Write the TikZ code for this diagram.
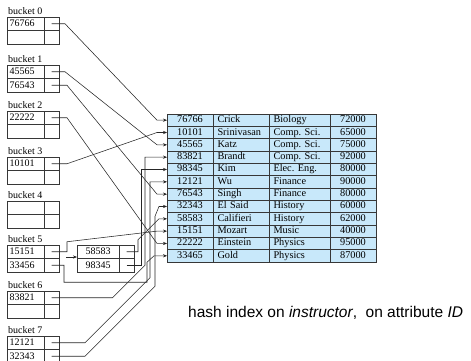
\documentclass[tikz,border=0pt]{standalone}
\usepackage{fontspec}
\setmainfont{Liberation Serif}
\newfontfamily\captionfont{Liberation Sans}
\usetikzlibrary{arrows.meta}

\definecolor{rowblue}{RGB}{200,232,250}
\definecolor{edgegray}{RGB}{55,55,55}

\tikzset{
    bucketlabel/.style={anchor=south west, inner sep=0pt, xshift=1pt, yshift=2pt, font=\fontsize{10}{11}\selectfont},
    keycell/.style={draw=edgegray, line width=0.7pt, anchor=north west, outer sep=0pt, minimum height=13.5pt,
        inner xsep=2.5pt, inner ysep=0pt, text width=32pt, align=left, text height=7pt, text depth=1.5pt,
        font=\fontsize{10}{11}\selectfont},
    ovcell/.style={text width=37pt, align=center},
    ptrcell/.style={draw=edgegray, line width=0.7pt, anchor=north west, outer sep=0pt, minimum width=15pt,
        minimum height=13.5pt, inner sep=0pt},
    idcell/.style={draw=edgegray, fill=rowblue, line width=0.8pt, anchor=north west, outer sep=0pt,
        minimum width=46pt, minimum height=12.33pt, inner sep=0pt, text height=7pt, text depth=2pt,
        font=\fontsize{10.3}{11}\selectfont},
    namecell/.style={idcell, minimum width=0pt, inner xsep=4.5pt, text width=47pt, align=left},
    deptcell/.style={namecell, text width=52pt},
    link/.style={->, draw=black!85, line width=0.55pt},
    caption/.style={anchor=base west, inner sep=0pt, font=\captionfont\fontsize{15.5}{18}\selectfont}
}

\begin{document}
\begin{tikzpicture}[x=1pt, y=-1pt, >={Stealth[length=4pt,width=3.2pt]}]

    \useasboundingbox (0,0) rectangle (471,360);

    \coordinate (B0) at (7, 17);
    \coordinate (B1) at (7, 65);
    \coordinate (B2) at (7, 111);
    \coordinate (B3) at (7, 157);
    \coordinate (B4) at (7, 201);
    \coordinate (B5) at (7, 245);
    \coordinate (B6) at (7, 291);
    \coordinate (B7) at (7, 336);
    \coordinate (B8) at (77, 245);
    \coordinate (OV) at (66, 257);
    \coordinate (T)  at (167, 114);
    \coordinate (C)  at (188, 317);

    % buckets
    \foreach \k/\first/\second in {0/76766/{}, 1/45565/76543, 2/22222/{}, 3/10101/{},
                                   4/{}/{}, 5/15151/33456, 6/83821/{}, 7/12121/32343} {
        \node[bucketlabel] (L\k) at (B\k) {bucket \k};
        \node[keycell] (K\k1) at (B\k) {\first};
        \node[ptrcell] (P\k1) at (K\k1.north east) {};
        \node[keycell] (K\k2) at (K\k1.south west) {\second};
        \node[ptrcell] (P\k2) at (K\k2.north east) {};
    }

    % overflow bucket of bucket 5
    \node[keycell, ovcell] (K81) at (B8) {58583};
    \node[ptrcell] (P81) at (K81.north east) {};
    \node[keycell, ovcell] (K82) at (K81.south west) {98345};
    \node[ptrcell] (P82) at (K82.north east) {};

    % instructor file
    \foreach \i/\id/\who/\dept/\pay in {1/76766/Crick/Biology/72000, 2/10101/Srinivasan/Comp.\ Sci./65000,
                                        3/45565/Katz/Comp.\ Sci./75000, 4/83821/Brandt/Comp.\ Sci./92000,
                                        5/98345/Kim/Elec.\ Eng./80000, 6/12121/Wu/Finance/90000,
                                        7/76543/Singh/Finance/80000, 8/32343/El Said/History/60000,
                                        9/58583/Califieri/History/62000, 10/15151/Mozart/Music/40000,
                                        11/22222/Einstein/Physics/95000, 12/33465/Gold/Physics/87000} {
        \node[idcell] (R\i) at ([yshift={-12.33*(\i-1)}]T) {\id};
        \node[namecell] (N\i) at (R\i.north east) {\who};
        \node[deptcell] (D\i) at (N\i.north east) {\dept};
        \node[idcell] (S\i) at (D\i.north east) {\pay};
    }

    \node[caption] (CAP) at (C) {hash index on \textit{instructor},~ on attribute \textit{ID}};

    \draw [link] (P01.center) -- ++(13.5,0) -- ([xshift=-10pt]R1.west) -- (R1.west);
    \draw [link] (P11.center) -- ++(13.5,0) -- ([xshift=-10pt]R3.west) -- (R3.west);
    \draw [link] (P12.center) -- ++(15.5,0) -- ([xshift=-10pt]R7.west) -- (R7.west);
    \draw [link] (P21.center) -- ++(15.5,0) -- ([xshift=-10pt]R11.west) -- (R11.west);
    \draw [link] (P31.center) -- ++(15.5,0) -- ([xshift=-10pt]R2.west) -- (R2.west);

    \draw [link] (P51.center) -- ++(15.5,0) -- ++(0,-10) -- ([xshift=-10pt]R10.west) -- (R10.west);
    \draw [link] (P52.center) -- ++(12.5,0) -- ++(0,17) -- ++(83,0) -- ++(0,-20)
                 -- ([xshift=-13pt]R12.west) -- (R12.west);
    \draw [link] (OV) -- (OV -| K81.west);

    \draw [link] (P81.center) -- ++(11.5,0) -- ++(0,-12) -- ([xshift=-8pt]R9.west) -- (R9.west);
    \draw [link] (P82.center) -- ++(15,0) |- (R5.west);

    \draw [link] (P61.center) -- ++(61,0) -- ++(32.5,-32.5) |- (R4.west);
    \draw [link] (P71.center) -- ++(33.5,0) -- ++(65,-65) |- (R6.west);
    \draw [link] (P72.center) -- ++(33.5,0) -- ++(70,-70) -- ++(0,-70)
                 -- ([xshift=-8pt]R8.west) -- (R8.west);

\end{tikzpicture}
\end{document}
